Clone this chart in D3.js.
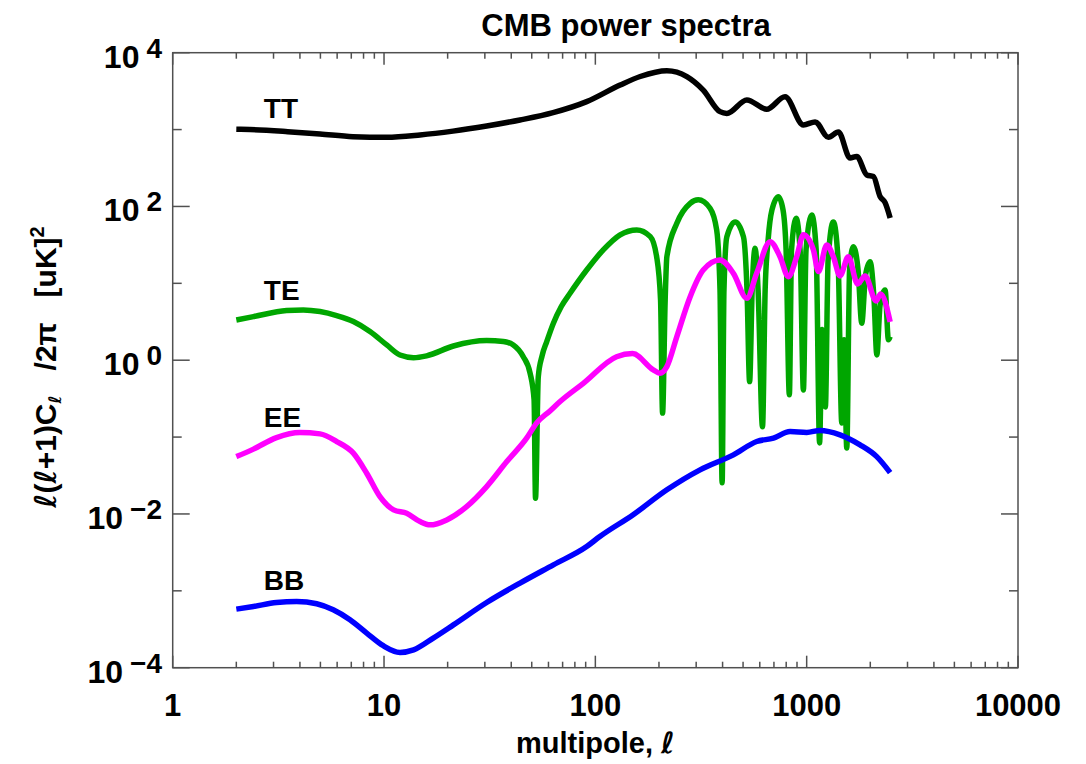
<!DOCTYPE html>
<html>
<head>
<meta charset="utf-8">
<script src="https://cdn.jsdelivr.net/npm/d3@7"></script>
<style>
  html, body { margin: 0; padding: 0; background: #fff; }
  svg { display: block; }
  text { font-family: "Liberation Sans", Arial, sans-serif; fill: #000; font-weight: bold; }
</style>
</head>
<body>
<svg id="chart" width="1086" height="764"></svg>
<script>
// ---------------- data ----------------
const title = "CMB power spectra";
const xTickValues = [1, 10, 100, 1000, 10000];
const xTickLabels = ["1", "10", "100", "1000", "10000"];
const yTickExponents = [-4, -2, 0, 2, 4];
const seriesNames = ["TT", "TE", "EE", "BB"];

const ttEll = [2, 2.32, 3.5, 4.98, 7.13, 10.3, 14.8, 21.2, 30.6, 44, 63.1, 91, 131, 163, 218, 271, 324, 389, 419, 521, 647, 790, 965, 1096, 1267, 1413, 1605, 1726, 1925, 2069, 2225, 2350, 2483];
const ttVal = [1009, 1000, 940, 877, 809, 794, 851, 955, 1114, 1334, 1660, 2307, 3800, 4900, 5830, 4900, 3270, 1710, 1622, 2427, 1837, 2680, 1148, 1259, 794, 933, 427, 447, 257, 245, 135, 112, 70.8];

const teEll = [2, 2.41, 3.46, 4.15, 4.98, 5.97, 7.16, 8.58, 10.3, 11.9, 13.8, 15.9, 21.3, 30.6, 36.7, 40.9, 45.6, 49.1, 51.3, 52.1, 53.7, 56, 58.9, 63.3, 69, 75.9, 91, 109, 131, 157, 182, 195, 203.5, 208, 214, 218, 243, 281, 307, 349, 375, 389, 398, 406, 419, 459, 502, 522, 537, 552, 570, 589, 618, 636, 657, 685, 735, 773, 799, 828, 848, 891, 931, 965, 993, 1057, 1109, 1151, 1183, 1226, 1263, 1337, 1408, 1466, 1503, 1548, 1596, 1663, 1751, 1822, 1900, 1995, 2084, 2148, 2226, 2350, 2437, 2483];
const teVal = [3.34, 3.69, 4.42, 4.51, 4.29, 3.80, 3.18, 2.36, 1.58, 1.17, 1.08, 1.14, 1.53, 1.80, 1.75, 1.58, 1.11, 0.68, 0.305, 0.016, 0.61, 1.15, 1.75, 3.03, 5.0, 7.43, 14.9, 27.2, 42.7, 49.5, 40.5, 22.2, 6.1, 0.205, 6.1, 22.2, 60.5, 110, 122, 94.8, 49.5, 8.1, 0.0254, 8.1, 40.5, 63, 40.5, 8.1, 0.527, 8.1, 28.6, 8.1, 0.136, 8.1, 36.7, 90, 134, 90, 27.2, 0.354, 27.2, 70.3, 27.2, 0.41, 27.2, 77.6, 27.2, 0.084, 2.5, 0.247, 20, 63, 20, 0.153, 1.84, 0.072, 14.9, 30, 14.9, 3.03, 12.9, 19.1, 6.1, 1.17, 5.25, 8.2, 1.84, 2.03];

const eeEll = [2, 2.41, 3.1, 4, 4.98, 5.97, 7.16, 8.28, 9.57, 11.1, 12.8, 14.8, 16.5, 19.8, 24.6, 30.6, 38.1, 47.3, 52.8, 61, 68.1, 87.7, 126, 150, 188, 202, 218, 243, 281, 324, 389, 450, 521, 580, 671, 748, 819, 897, 965, 1076, 1136, 1245, 1337, 1438, 1574, 1742, 1890, 2130, 2238, 2483];
const eeVal = [0.0557, 0.0697, 0.0986, 0.1146, 0.110, 0.0875, 0.0618, 0.0339, 0.0168, 0.0113, 0.0102, 0.00796, 0.00721, 0.00837, 0.01247, 0.0227, 0.048, 0.0968, 0.153, 0.219, 0.290, 0.50, 1.11, 1.22, 0.748, 0.678, 0.826, 2.03, 6.71, 14.9, 20.1, 13.5, 6.40, 13.5, 34.8, 22.2, 12.2, 22.2, 42.7, 27.2, 14.2, 31.6, 22.2, 12.5, 22.2, 9.82, 12.5, 5.90, 7.28, 3.15];

const bbEll = [2, 2.41, 3.1, 3.86, 4.8, 5.75, 6.9, 8.28, 9.92, 11.9, 13.8, 17.1, 21.3, 30.6, 44, 63.3, 91, 105, 151, 218, 313, 450, 580, 696, 834, 1001, 1157, 1438, 1789, 2146, 2483];
const bbVal = [5.78e-4, 6.25e-4, 7.05e-4, 7.26e-4, 6.78e-4, 5.66e-4, 4.20e-4, 2.82e-4, 1.93e-4, 1.58e-4, 1.71e-4, 2.43e-4, 3.61e-4, 7.05e-4, 1.26e-3, 2.18e-3, 3.77e-3, 5.08e-3, 9.77e-3, 0.0206, 0.0375, 0.0587, 0.0875, 0.0968, 0.118, 0.115, 0.122, 0.107, 0.0793, 0.0557, 0.0345];

// ---------------- layout ----------------
const svg = d3.select("#chart");
const L = 172.7, R = 1018, T = 52.7, B = 667.7;
const x = d3.scaleLog().domain([1, 10000]).range([L, R]);
const y = d3.scaleLog().domain([1e-4, 1e4]).range([B, T]);

const series = [
  { name: seriesNames[0], ell: ttEll, val: ttVal, color: "#000000", lx: 2.7, ly: 118 },
  { name: seriesNames[1], ell: teEll, val: teVal, color: "#00a600", lx: 2.7, ly: 300 },
  { name: seriesNames[2], ell: eeEll, val: eeVal, color: "#ff00ff", lx: 2.7, ly: 427 },
  { name: seriesNames[3], ell: bbEll, val: bbVal, color: "#0000ff", lx: 2.7, ly: 590 }
];

const line = d3.line()
  .x(d => x(d[0]))
  .y(d => y(d[1]))
  .curve(d3.curveMonotoneX);

const plot = svg.append("g");
series.forEach(s => {
  const pts = s.ell.map((e, i) => [e, s.val[i]]);
  plot.append("path")
    .datum(pts)
    .attr("d", line)
    .attr("fill", "none")
    .attr("stroke", s.color)
    .attr("stroke-width", 5.5)
    .attr("stroke-linejoin", "round")
    .attr("stroke-linecap", "butt");
});

// frame
const axisColor = "#505050";
svg.append("rect")
  .attr("x", L).attr("y", T).attr("width", R - L).attr("height", B - T)
  .attr("fill", "none").attr("stroke", axisColor).attr("stroke-width", 1.5);

// x ticks (bottom & top)
const xMajor = xTickValues;
const xMinor = [];
for (let d = 1; d < 10000; d *= 10) for (let k = 2; k <= 9; k++) xMinor.push(d * k);
const tg = svg.append("g").attr("stroke", axisColor).attr("stroke-width", 1.5);
xMajor.forEach(v => {
  tg.append("line").attr("x1", x(v)).attr("x2", x(v)).attr("y1", B).attr("y2", B - 12);
  tg.append("line").attr("x1", x(v)).attr("x2", x(v)).attr("y1", T).attr("y2", T + 12);
});
xMinor.forEach(v => {
  tg.append("line").attr("x1", x(v)).attr("x2", x(v)).attr("y1", B).attr("y2", B - 6);
  tg.append("line").attr("x1", x(v)).attr("x2", x(v)).attr("y1", T).attr("y2", T + 6);
});
// y ticks (left & right)
for (let e = -4; e <= 4; e++) {
  const len = (e % 2 === 0) ? 17 : 9;
  tg.append("line").attr("x1", L).attr("x2", L + len).attr("y1", y(Math.pow(10, e))).attr("y2", y(Math.pow(10, e)));
  tg.append("line").attr("x1", R).attr("x2", R - len).attr("y1", y(Math.pow(10, e))).attr("y2", y(Math.pow(10, e)));
}

// x tick labels
xTickValues.forEach((v, i) => {
  svg.append("text")
    .attr("x", x(v)).attr("y", 716)
    .attr("text-anchor", "middle")
    .attr("font-size", 31)
    .text(xTickLabels[i]);
});

// y tick labels
yTickExponents.forEach(e => {
  const t = svg.append("text")
    .attr("x", 162).attr("y", y(Math.pow(10, e)) + 15)
    .attr("text-anchor", "end")
    .attr("font-size", 32);
  t.append("tspan").text("10");
  t.append("tspan")
    .attr("dx", 7).attr("dy", -10).attr("font-size", 28)
    .text(e < 0 ? "\u2212" + Math.abs(e) : String(e));
});

// title
svg.append("text")
  .attr("x", 626).attr("y", 36)
  .attr("text-anchor", "middle")
  .attr("font-size", 31)
  .text(title);

// x label
const xl = svg.append("text")
  .attr("x", (L + R) / 2).attr("y", 753)
  .attr("text-anchor", "middle")
  .attr("font-size", 29);
xl.append("tspan").text("multipole, ");
xl.append("tspan").attr("font-style", "italic").attr("font-family", "DejaVu Sans").text("\u2113");

// y label
const yl = svg.append("text")
  .attr("transform", "translate(56,367) rotate(-90)")
  .attr("text-anchor", "middle")
  .attr("xml:space", "preserve")
  .attr("font-size", 30);
yl.append("tspan").attr("font-family", "DejaVu Sans").attr("font-style", "italic").text("\u2113");
yl.append("tspan").text("(");
yl.append("tspan").attr("font-family", "DejaVu Sans").attr("font-style", "italic").text("\u2113");
yl.append("tspan").text("+1)C");
yl.append("tspan").attr("font-family", "DejaVu Sans").attr("font-style", "italic").attr("font-size", 17).attr("dy", 5).text("\u2113");
yl.append("tspan").attr("dy", -5).text("   /2\u03c0   [uK]");
yl.append("tspan").attr("font-size", 20).attr("dy", -12).text("2");

// series labels
series.forEach(s => {
  svg.append("text")
    .attr("x", x(s.lx)).attr("y", s.ly)
    .attr("font-size", 28)
    .text(s.name);
});
</script>
</body>
</html>
